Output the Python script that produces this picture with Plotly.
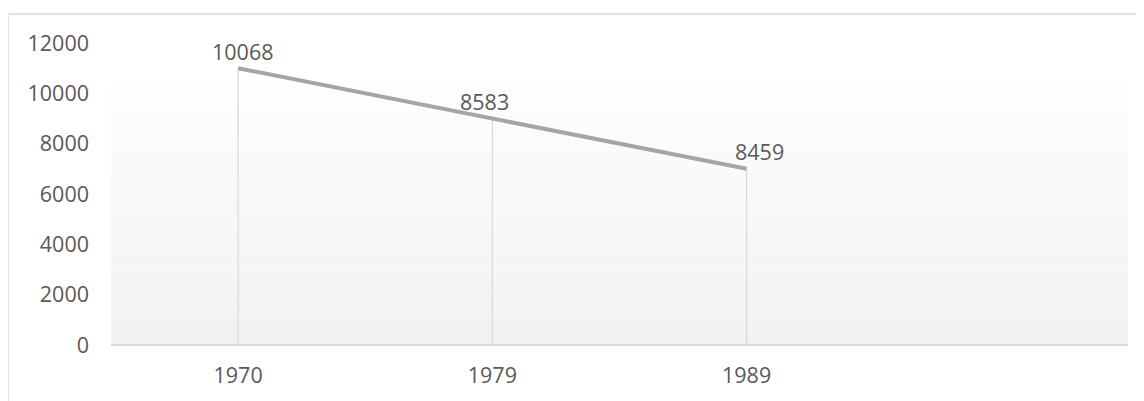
import plotly.graph_objects as go

years = ["1970", "1979", "1989"]
values = [11000, 9000, 7000]
labels = ["10068", "8583", "8459"]
y_ticks = [0, 2000, 4000, 6000, 8000, 10000, 12000]

xpos = list(range(len(years)))
fig = go.Figure()

# plot-area gradient (paper coordinates)
n = 60
top = 0.878
c_top = (254, 254, 254)
c_bot = (241, 241, 241)
for i in range(n):
    t = (i + 0.5) / n
    r = round(c_top[0] + (c_bot[0] - c_top[0]) * t)
    g = round(c_top[1] + (c_bot[1] - c_top[1]) * t)
    b = round(c_top[2] + (c_bot[2] - c_top[2]) * t)
    y1 = top - top * i / n
    y0 = top - top * (i + 1) / n
    fig.add_shape(type="rect", xref="paper", yref="paper", x0=0, x1=1,
                  y0=y0, y1=y1, fillcolor=f"rgb({r},{g},{b})",
                  line=dict(width=0), layer="below")

# drop lines
for xi, v in zip(xpos, values):
    fig.add_trace(go.Scatter(x=[xi, xi], y=[0, v], mode="lines",
                             line=dict(color="#d9d9d9", width=1.2),
                             hoverinfo="skip", showlegend=False))

fig.add_trace(go.Scatter(x=xpos, y=values, mode="lines",
                         line=dict(color="#a5a5a5", width=4),
                         showlegend=False))

xshifts = [4, -8, 13]
for xi, v, lab, xs in zip(xpos, values, labels, xshifts):
    fig.add_annotation(x=xi, y=v, text=lab, showarrow=False,
                       yshift=17, xshift=xs,
                       font=dict(family="Open Sans", size=21.5, color="#595959"))

# outer border
fig.add_shape(type="rect", xref="paper", yref="paper",
              x0=-0.1013, x1=1.05, y0=-0.3, y1=1.0959,
              line=dict(color="#d9d9d9", width=1.5), fillcolor="rgba(0,0,0,0)")

fig.update_layout(
    width=1144, height=401,
    margin=dict(l=103, r=24, t=35, b=63.5),
    paper_bgcolor="white", plot_bgcolor="rgba(0,0,0,0)",
    font=dict(family="Open Sans", size=21.5, color="#595959"),
    xaxis=dict(range=[-0.5, 3.5], tickvals=xpos, ticktext=years,
               showgrid=False, zeroline=False, showline=False,
               ticks="", ticklabelstandoff=15),
    yaxis=dict(range=[0, 12000], tickvals=y_ticks,
               ticktext=[str(v) for v in y_ticks], showgrid=False,
               zeroline=True, zerolinecolor="#d9d9d9", zerolinewidth=2,
               showline=False, ticks="", ticklabelstandoff=21),
)

fig.write_html("out.html")
